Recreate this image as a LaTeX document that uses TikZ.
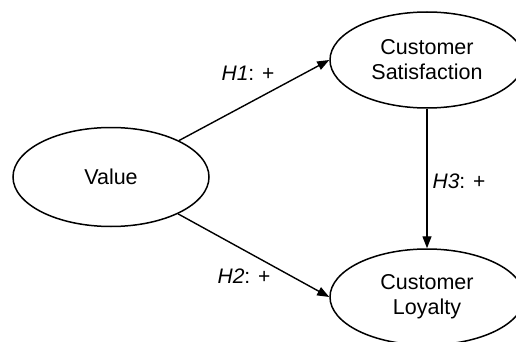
\documentclass[tikz,border=0pt]{standalone}
\usepackage{fontspec}
\setmainfont{Liberation Sans}
\usetikzlibrary{shapes.geometric,arrows.meta}
\begin{document}
\begin{tikzpicture}[x=1pt,y=-1pt,
  construct/.style={ellipse,draw=black,line width=1.5pt,inner sep=0pt,
    minimum width=194pt,minimum height=96pt,align=center,
    font=\fontsize{21.5}{25}\selectfont},
  path/.style={draw=black,line width=1.4pt,-{Triangle[length=12pt,width=9pt]}},
  hyp/.style={font=\fontsize{21}{25}\selectfont,inner sep=0pt}]
\useasboundingbox (0,0) rectangle (516,342);
\clip (0,0) rectangle (516,342);
\node[construct,minimum width=196pt,minimum height=99pt] (v) at (111,177) {Value};
\node[construct] (cs) at (427,60) {Customer\\Satisfaction};
\node[construct] (cl) at (427,297) {Customer\\Loyalty};
\draw[path] (v) -- (cs.west);
\draw[path] (v) -- (cl.west);
\draw[path] (cs) -- (cl);
\node[hyp] (h1) at (248,73) {\textit{H1}: +};
\node[hyp] (h2) at (244,276) {\textit{H2}: +};
\node[hyp] (h3) at (459,181) {\textit{H3}: +};
\end{tikzpicture}
\end{document}
